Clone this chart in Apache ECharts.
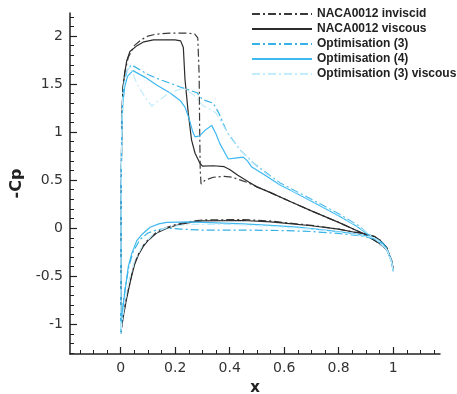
<!DOCTYPE html>
<html>
<head>
<meta charset="utf-8">
<script src="https://cdn.jsdelivr.net/npm/echarts@6/dist/echarts.min.js"></script>
<style>
    html, body { margin: 0; padding: 0; background: #fff; }
    #chart { width: 457px; height: 394px; }
</style>
</head>
<body>
<div id="chart"></div>
<script>
// 图例名称
let names = ['NACA0012 inviscid', 'NACA0012 viscous', 'Optimisation (3)', 'Optimisation (4)', 'Optimisation (3) viscous'];

// 刻度
let xLabels = [0, 0.2, 0.4, 0.6, 0.8, 1];
let xMinor = [-0.15, -0.1, -0.05, 0.05, 0.1, 0.15, 0.25, 0.3, 0.35, 0.45, 0.5, 0.55, 0.65, 0.7, 0.75, 0.85, 0.9, 0.95, 1.05, 1.1, 1.15];
let yLabels = [-1, -0.5, 0, 0.5, 1, 1.5, 2];
let yMinor = [-1.3, -1.2, -1.1, -0.9, -0.8, -0.7, -0.6, -0.4, -0.3, -0.2, -0.1, 0.1, 0.2, 0.3, 0.4, 0.6, 0.7, 0.8, 0.9, 1.1, 1.2, 1.3, 1.4, 1.6, 1.7, 1.8, 1.9, 2.1, 2.2];

// 上表面 [x, -Cp]，从前缘到后缘
let invUpper = [[0, -1.1], [0.001, -0.4], [0.002, 0.4], [0.004, 1.1], [0.008, 1.45], [0.015, 1.62], [0.028, 1.78], [0.05, 1.9], [0.075, 1.96], [0.1, 2.0], [0.13, 2.02], [0.18, 2.03], [0.25, 2.03], [0.272, 2.02], [0.283, 1.98], [0.288, 1.6], [0.29, 1.0], [0.292, 0.6], [0.295, 0.46], [0.31, 0.5], [0.34, 0.53], [0.38, 0.54], [0.41, 0.53], [0.44, 0.5], [0.47, 0.47], [0.5, 0.43], [0.55, 0.37], [0.62, 0.28], [0.7, 0.18], [0.8, 0.06], [0.89, -0.055], [0.95, -0.16], [0.976, -0.22], [0.994, -0.33], [1.0, -0.42]];
let visUpper = [[0, -1.1], [0.001, -0.4], [0.002, 0.4], [0.004, 1.1], [0.008, 1.45], [0.015, 1.62], [0.022, 1.74], [0.034, 1.84], [0.06, 1.9], [0.085, 1.94], [0.12, 1.96], [0.2, 1.96], [0.22, 1.95], [0.23, 1.88], [0.236, 1.55], [0.248, 1.2], [0.26, 0.92], [0.273, 0.78], [0.29, 0.68], [0.3, 0.645], [0.34, 0.65], [0.38, 0.64], [0.4, 0.61], [0.43, 0.55], [0.47, 0.48], [0.5, 0.43], [0.55, 0.37], [0.62, 0.28], [0.7, 0.18], [0.8, 0.06], [0.89, -0.055], [0.95, -0.16], [0.976, -0.22], [0.994, -0.33], [1.0, -0.42]];
let opt3Upper = [[0, -1.1], [0.001, -0.3], [0.002, 0.5], [0.004, 1.05], [0.008, 1.4], [0.015, 1.55], [0.025, 1.65], [0.04, 1.7], [0.07, 1.65], [0.1, 1.6], [0.132, 1.56], [0.18, 1.51], [0.218, 1.47], [0.25, 1.44], [0.28, 1.41], [0.3, 1.34], [0.34, 1.3], [0.36, 1.2], [0.39, 1.0], [0.44, 0.81], [0.49, 0.67], [0.585, 0.47], [0.7, 0.3], [0.8, 0.15], [0.87, 0.03], [0.9, -0.04], [0.95, -0.14], [0.976, -0.22], [0.994, -0.34], [1.0, -0.44]];
let opt4Upper = [[0, -1.1], [0.001, -0.3], [0.002, 0.5], [0.004, 1.0], [0.008, 1.3], [0.015, 1.47], [0.025, 1.58], [0.045, 1.64], [0.09, 1.57], [0.132, 1.49], [0.18, 1.41], [0.218, 1.33], [0.236, 1.26], [0.25, 1.15], [0.265, 1.0], [0.273, 0.95], [0.29, 0.96], [0.31, 1.02], [0.334, 1.07], [0.35, 0.98], [0.364, 0.88], [0.395, 0.72], [0.42, 0.73], [0.45, 0.74], [0.465, 0.7], [0.48, 0.64], [0.53, 0.55], [0.585, 0.45], [0.62, 0.4], [0.7, 0.28], [0.8, 0.13], [0.866, 0.02], [0.9, -0.05], [0.95, -0.15], [0.976, -0.22], [0.994, -0.34], [1.0, -0.45]];
let opt3vUpper = [[0, -1.1], [0.001, -0.3], [0.002, 0.5], [0.004, 1.05], [0.008, 1.4], [0.015, 1.55], [0.025, 1.64], [0.035, 1.68], [0.06, 1.5], [0.09, 1.36], [0.114, 1.27], [0.14, 1.33], [0.175, 1.4], [0.23, 1.46], [0.27, 1.38], [0.3, 1.28], [0.35, 1.2], [0.4, 0.95], [0.45, 0.78], [0.5, 0.64], [0.585, 0.46], [0.7, 0.29], [0.8, 0.14], [0.87, 0.02], [0.9, -0.04], [0.95, -0.14], [0.976, -0.22], [0.994, -0.34], [1.0, -0.44]];

// 下表面 [x, -Cp]，从前缘到后缘
let invLower = [[0, -1.1], [0.005, -1.0], [0.012, -0.87], [0.02, -0.75], [0.028, -0.64], [0.04, -0.49], [0.052, -0.36], [0.065, -0.27], [0.083, -0.18], [0.1, -0.12], [0.132, -0.04], [0.17, 0.01], [0.205, 0.04], [0.266, 0.075], [0.3, 0.085], [0.45, 0.09], [0.55, 0.075], [0.61, 0.055], [0.7, 0.03], [0.8, -0.01], [0.854, -0.04], [0.89, -0.055], [0.93, -0.085], [0.95, -0.12], [0.976, -0.2], [0.994, -0.34], [1.0, -0.42]];
let visLower = [[0, -1.1], [0.005, -1.0], [0.012, -0.88], [0.02, -0.76], [0.028, -0.65], [0.04, -0.5], [0.052, -0.37], [0.065, -0.28], [0.083, -0.19], [0.1, -0.13], [0.132, -0.05], [0.17, 0.0], [0.205, 0.03], [0.266, 0.065], [0.3, 0.075], [0.45, 0.08], [0.55, 0.065], [0.61, 0.05], [0.7, 0.025], [0.8, -0.01], [0.854, -0.04], [0.89, -0.055], [0.93, -0.085], [0.95, -0.12], [0.976, -0.2], [0.994, -0.34], [1.0, -0.42]];
let opt3Lower = [[0, -1.1], [0.004, -0.95], [0.01, -0.76], [0.018, -0.6], [0.03, -0.4], [0.045, -0.25], [0.07, -0.12], [0.1, -0.05], [0.13, -0.02], [0.17, 0.0], [0.22, -0.01], [0.3, -0.02], [0.45, -0.02], [0.6, -0.025], [0.7, -0.035], [0.8, -0.055], [0.88, -0.08], [0.93, -0.11], [0.96, -0.15], [0.98, -0.22], [0.994, -0.35], [1.0, -0.44]];
let opt4Lower = [[0, -1.1], [0.004, -0.95], [0.01, -0.78], [0.016, -0.65], [0.028, -0.4], [0.04, -0.27], [0.059, -0.13], [0.08, -0.06], [0.108, 0.01], [0.14, 0.045], [0.169, 0.06], [0.254, 0.065], [0.35, 0.055], [0.45, 0.045], [0.55, 0.03], [0.65, 0.01], [0.75, -0.02], [0.85, -0.055], [0.9, -0.08], [0.95, -0.13], [0.976, -0.22], [0.994, -0.35], [1.0, -0.45]];
let opt3vLower = [[0, -1.1], [0.006, -0.95], [0.015, -0.78], [0.03, -0.55], [0.05, -0.35], [0.08, -0.18], [0.12, -0.06], [0.17, 0.01], [0.25, 0.04], [0.4, 0.04], [0.55, 0.02], [0.7, -0.01], [0.85, -0.06], [0.93, -0.1], [0.976, -0.22], [0.994, -0.35], [1.0, -0.44]];

// 上下表面拼成一个闭合回路
let loop = (upper, lower) => upper.slice().reverse().concat(lower.slice(1));

let dashDot = [8, 3, 2, 3];
let axisColor = '#222';

let line = (name, data, color, type) => ({
    name: name,
    type: 'line',
    data: data,
    symbol: 'none',
    lineStyle: { color: color, width: 1.2, type: type },
    itemStyle: { color: color },
    z: 3
});

let mychart = echarts.init(document.getElementById('chart'));
let option = {
    animation: false,
    grid: { left: 70, right: 17, top: 13, bottom: 40, outerBoundsMode: 'none' },
    legend: {
        orient: 'vertical',
        left: 251,
        top: 8,
        padding: 0,
        itemWidth: 60,
        itemHeight: 10,
        itemGap: 3,
        data: names,
        itemStyle: { opacity: 0 },
        textStyle: { fontFamily: 'Liberation Sans', fontWeight: 'bold', fontSize: 12, color: '#222', lineHeight: 12 }
    },
    xAxis: [{
        type: 'value',
        min: -0.186,
        max: 1.172,
        position: 'bottom',
        name: 'x',
        nameLocation: 'middle',
        nameGap: 27,
        nameTextStyle: { fontFamily: 'DejaVu Sans', fontWeight: 'bold', fontSize: 15, color: '#222' },
        axisLine: { onZero: false, lineStyle: { color: axisColor, width: 1.5 } },
        axisTick: { inside: true, length: 7, customValues: xLabels, lineStyle: { color: axisColor, width: 1.2 } },
        axisLabel: { customValues: xLabels, margin: 7, fontFamily: 'DejaVu Sans', fontSize: 14, color: '#333' },
        splitLine: { show: false }
    }, {
        type: 'value',
        min: -0.186,
        max: 1.172,
        position: 'bottom',
        axisLine: { show: false, onZero: false },
        axisTick: { inside: true, length: 4, customValues: xMinor, lineStyle: { color: axisColor, width: 1 } },
        axisLabel: { show: false },
        splitLine: { show: false }
    }],
    yAxis: [{
        type: 'value',
        min: -1.31,
        max: 2.24,
        position: 'left',
        name: '-Cp',
        nameLocation: 'middle',
        nameRotate: 90,
        nameGap: 32,
        nameTextStyle: { fontFamily: 'DejaVu Sans', fontWeight: 'bold', fontSize: 16, color: '#222' },
        axisLine: { show: true, onZero: false, lineStyle: { color: axisColor, width: 1.5 } },
        axisTick: { show: true, inside: true, length: 7, customValues: yLabels, lineStyle: { color: axisColor, width: 1.2 } },
        axisLabel: { customValues: yLabels, margin: 7, fontFamily: 'DejaVu Sans', fontSize: 14, color: '#333' },
        splitLine: { show: false }
    }, {
        type: 'value',
        min: -1.31,
        max: 2.24,
        position: 'left',
        axisLine: { show: false, onZero: false },
        axisTick: { show: true, inside: true, length: 4, customValues: yMinor, lineStyle: { color: axisColor, width: 1 } },
        axisLabel: { show: false },
        splitLine: { show: false }
    }],
    series: [
        line(names[0], loop(invUpper, invLower), '#3a3a3a', dashDot),
        line(names[1], loop(visUpper, visLower), '#2b2b2b', 'solid'),
        line(names[2], loop(opt3Upper, opt3Lower), '#35b2e6', dashDot),
        line(names[3], loop(opt4Upper, opt4Lower), '#3db8f0', 'solid'),
        line(names[4], loop(opt3vUpper, opt3vLower), '#c2ebfb', dashDot)
    ]
};
mychart.setOption(option);
</script>
</body>
</html>
